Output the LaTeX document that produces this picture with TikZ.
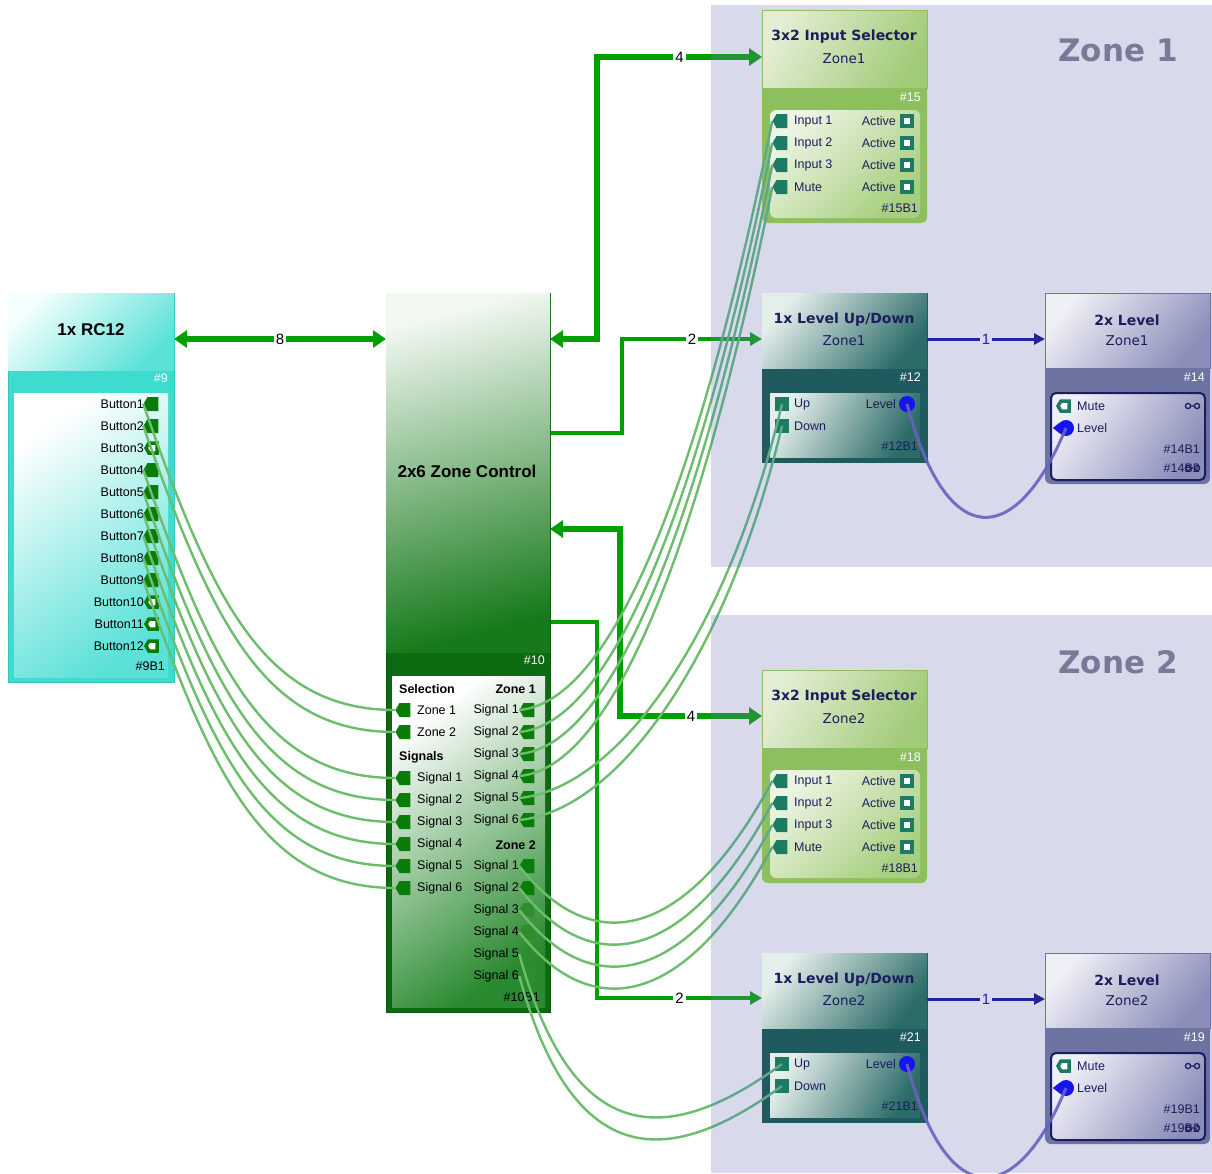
\documentclass[tikz,border=0pt]{standalone}
\usepackage{fontspec}
\setmainfont{Liberation Sans}
\newfontfamily\titlefont{DejaVu Sans}
\usepackage{tikz}
\usetikzlibrary{arrows.meta,positioning,fit,calc,shapes.symbols}
\definecolor{rcturq}  {HTML}{3EDBCF}
\definecolor{rcedge}  {HTML}{30C8BC}
\definecolor{rclight} {HTML}{F3FFFD}
\definecolor{rcmid}   {HTML}{5CE1D8}
\definecolor{zcdark}  {HTML}{0C6A10}
\definecolor{zcedge}  {HTML}{0A5A0C}
\definecolor{zclight} {HTML}{F1F7F1}
\definecolor{zcmid}   {HTML}{167A1A}
\definecolor{zcpanel} {HTML}{2A8A30}
\definecolor{portgrn} {HTML}{0A7C0A}
\definecolor{portlt}  {HTML}{2E8E2E}
\definecolor{wiregrn} {HTML}{6CBD6C}
\definecolor{wireteal}{HTML}{5FA88A}
\definecolor{busgrn}  {HTML}{00A000}
\definecolor{selband} {HTML}{8EBF5F}
\definecolor{sellight}{HTML}{E2EED3}
\definecolor{seldark} {HTML}{A2CB79}
\definecolor{selpa}   {HTML}{EDF4E4}
\definecolor{selpb}   {HTML}{A7CF7F}
\definecolor{navytxt} {HTML}{1D1D5E}
\definecolor{tealport}{HTML}{1E7B63}
\definecolor{lvldark} {HTML}{1F5A5E}
\definecolor{lvllight}{HTML}{E4EEEA}
\definecolor{lvlmid}  {HTML}{2B6B68}
\definecolor{levband} {HTML}{6E74A1}
\definecolor{levlight}{HTML}{EFEFF6}
\definecolor{levdark} {HTML}{8B8EB9}
\definecolor{levedge} {HTML}{1C1C62}
\definecolor{dotblue} {HTML}{1414F0}
\definecolor{linkblue}{HTML}{23239C}
\definecolor{curveblue}{HTML}{6A62C0}
\definecolor{zonetint}{RGB}{120,120,190}
\definecolor{zonebg}  {RGB}{217,217,237}
\definecolor{zonetxt} {HTML}{7A7A98}
\newcommand{\fsmall}{\fontsize{12.5}{14}\selectfont}
\newcommand{\fbold}{\fontsize{12.5}{14}\selectfont\bfseries}
\newcommand{\fhead}{\fontsize{17}{20}\selectfont\bfseries}
\newcommand{\ftitle}{\fontsize{14}{17}\selectfont\titlefont\bfseries}
\newcommand{\fsub}{\fontsize{13.5}{16}\selectfont\titlefont}
\newcommand{\fzone}{\fontsize{31}{36}\selectfont\titlefont\bfseries}
\newcommand{\fnum}{\fontsize{15}{17}\selectfont}
\pgfdeclarelayer{wires}
\pgfdeclarelayer{zones}
\pgfdeclarelayer{over}
\pgfsetlayers{wires,zones,main,over}
\tikzset{
  area/.style     ={inner sep=0pt, outer sep=0pt},
  port/.style     ={signal, signal to=west, signal pointer angle=120,
                    fill=portgrn, minimum width=15pt, minimum height=14pt,
                    inner sep=0pt},
  hport/.style    ={port, fill=white, draw=portgrn, line width=3.5pt,
                    minimum width=11pt, minimum height=10pt},
  lport/.style    ={port, fill=portlt},
  tport/.style    ={port, fill=tealport},
  thport/.style   ={hport, draw=tealport},
  tsq/.style      ={rectangle, fill=tealport, minimum size=14pt, inner sep=0pt},
  thsq/.style     ={rectangle, fill=white, draw=tealport, line width=4pt,
                    minimum size=10pt, inner sep=0pt},
  dot/.style      ={circle, fill=dotblue, minimum size=16pt, inner sep=0pt},
  lbl/.style      ={font=\fsmall, inner sep=0pt, text=black},
  nlbl/.style     ={lbl, text=navytxt},
  wlbl/.style     ={lbl, text=white},
  wire/.style     ={draw=wiregrn, line width=2.4pt},
  busboth/.style  ={{Triangle[length=13pt,width=17pt]}-{Triangle[length=13pt,width=17pt]},
                    draw=busgrn, line width=6.5pt},
  busone/.style   ={-{Triangle[length=12pt,width=13pt]}, draw=busgrn, line width=4pt},
  linkarr/.style  ={-{Triangle[length=11pt,width=11pt]}, draw=linkblue, line width=3pt},
  curve/.style    ={draw=curveblue, line width=3pt, opacity=.9},
  num/.style      ={fill=white, font=\fnum, inner sep=2pt},
  numb/.style     ={fill=zonebg, font=\fnum, text=linkblue, inner sep=2pt},
}
% all signal wires, drawn twice (outside / inside the zones)
\newcommand{\wirepaths}{%
  \foreach \b/\p in {1/zs1,2/zs2,4/zg1,5/zg2,6/zg3,7/zg4,8/zg5,9/zg6}
    \draw[wire] (b\b.west) .. controls +(70,200) and +(-130,0) .. (\p.west);
  \foreach \i in {1,...,4}
    \draw[wire] (za\i.west) .. controls +(115,-10) and +(-50,250) .. (s1in\i.west);
  \draw[wire] (za5.west) .. controls +(100,-10) and +(-55,230) .. (ludup1.center);
  \draw[wire] (za6.west) .. controls +(100,-10) and +(-55,230) .. (luddn1.center);
  \foreach \i in {1,...,4}
    \draw[wire] (zb\i.west) .. controls +(78,100) and +(-80,150) .. (s2in\i.west);
  \draw[wire] (zb5.west) .. controls +(55,200) and +(-110,80) .. (ludup2.center);
  \draw[wire] (zb6.west) .. controls +(55,200) and +(-110,80) .. (luddn2.center);
}

\begin{document}
\begin{tikzpicture}[x=1pt,y=-1pt]
  \useasboundingbox (0,0) rectangle (1212,1173);

  % zones
  \begin{pgfonlayer}{zones}
    \fill[zonetint, opacity=.28] (711,5) rectangle (1212,567);
    \fill[zonetint, opacity=.28] (711,615) rectangle (1212,1173);
  \end{pgfonlayer}
  \node[font=\fzone, text=zonetxt] (zone1) at (1118,50) {Zone 1};
  \node[font=\fzone, text=zonetxt] (zone2) at (1118,662) {Zone 2};

  % 1x RC12
  \node[area, fit={(8,293)(174,682)}, fill=rcturq, draw=rcedge] (rc) {};
  \node[area, fit={(8,293)(174,370)}, top color=rclight, bottom color=rcmid,
        shading angle=45] (rchead) {};
  \node[area, fit={(14,393)(168,677)}, top color=white, bottom color=rcmid,
        shading angle=35] (rcpanel) {};
  \node[font=\fhead] (rctitle) at (91,330) {1x RC12};
  \node[wlbl, anchor=east] (rcid) at (168,378) {\#9};
  \node[lbl, anchor=east] (rcpid) at (165,666) {\#9B1};
  \foreach \i/\st in {1/port,2/port,3/hport,4/port,5/port,6/port,7/port,
                      8/port,9/port,10/hport,11/hport,12/hport}{
    \node[\st] (b\i) at (153,{382+22*\i}) {};
    \node[lbl, anchor=east] (bt\i) at (144,{382+22*\i}) {Button\i};
  }

  % 2x6 Zone Control
  \node[area, fit={(386,293)(550,1012)}, fill=zcdark, draw=zcedge] (zc) {};
  \node[area, fit={(386,293)(550,652)}, top color=zclight, bottom color=zcmid,
        shading angle=15] (zchead) {};
  \node[area, fit={(392,676)(545,1007)}, top color=white, bottom color=zcpanel,
        shading angle=35] (zcpanel) {};
  \node[font=\fhead] (zctitle) at (467,471) {2x6 Zone Control};
  \node[wlbl, anchor=east] (zcid) at (545,660) {\#10};
  \node[lbl, anchor=east] (zcpid) at (540,997) {\#10B1};
  \node[lbl, font=\fbold, anchor=west] (zcsel) at (399,689) {Selection};
  \node[lbl, font=\fbold, anchor=east] (zcza) at (536,689) {Zone 1};
  \node[lbl, font=\fbold, anchor=west] (zcsig) at (399,757) {Signals};
  \node[lbl, font=\fbold, anchor=east] (zczb) at (536,845) {Zone 2};
  \foreach \i in {1,2}{
    \node[port] (zs\i) at (405,{688+22*\i}) {};
    \node[lbl, anchor=west] (zst\i) at (417,{688+22*\i}) {Zone \i};
  }
  \foreach \i in {1,...,6}{
    \node[port] (zg\i) at (405,{756+22*\i}) {};
    \node[lbl, anchor=west] (zgt\i) at (417,{756+22*\i}) {Signal \i};
    \node[port] (za\i) at (529,{688+22*\i}) {};
    \node[lbl, anchor=east] (zat\i) at (519,{688+22*\i}) {Signal \i};
  }
  \foreach \i/\st in {1/port,2/port,3/lport,4/lport,5/lport,6/lport}{
    \node[\st] (zb\i) at (529,{844+22*\i}) {};
    \node[lbl, anchor=east] (zbt\i) at (519,{844+22*\i}) {Signal \i};
  }

  % 3x2 Input Selector
  \foreach \z/\dy/\id in {1/0/15,2/660/18}{
    \node[area, fit={(762,{10+\dy})(927,{223+\dy})}, fill=selband,
          rounded corners=6pt] (sel\z) {};
    \node[area, fit={(762,{10+\dy})(927,{88+\dy})}, top color=sellight,
          bottom color=seldark, shading angle=60, draw=selband] (selhead\z) {};
    \node[area, fit={(770,{110+\dy})(920,{218+\dy})}, rounded corners=6pt,
          top color=selpa, bottom color=selpb, shading angle=45] (selpanel\z) {};
    \node[font=\ftitle, text=navytxt] (seltitle\z) at (844,{37+\dy}) {3x2 Input Selector};
    \node[font=\fsub, text=navytxt] (selsub\z) at (844,{59+\dy}) {Zone\z};
    \node[wlbl, anchor=east] (selid\z) at (921,{97+\dy}) {\#\id};
    \node[nlbl, anchor=east] (selpid\z) at (918,{208+\dy}) {\#\id B1};
    \foreach \k/\t in {1/Input 1,2/Input 2,3/Input 3,4/Mute}{
      \node[tport] (s\z in\k) at (782,{99+22*\k+\dy}) {};
      \node[nlbl, anchor=west] (s\z t\k) at (794,{99+22*\k+\dy}) {\t};
      \node[nlbl, anchor=east] (s\z a\k) at (896,{99+22*\k+\dy}) {Active};
      \node[thsq] (s\z o\k) at (907,{99+22*\k+\dy}) {};
    }
  }

  % 1x Level Up/Down
  \foreach \z/\dy/\id in {1/0/12,2/660/21}{
    \node[area, fit={(762,{293+\dy})(927,{462+\dy})}, fill=lvldark,
          draw=lvldark] (lud\z) {};
    \node[area, fit={(762,{293+\dy})(927,{368+\dy})}, top color=lvllight,
          bottom color=lvlmid, shading angle=50] (ludhead\z) {};
    \node[area, fit={(770,{393+\dy})(920,{457+\dy})}, top color=lvllight,
          bottom color=lvlmid, shading angle=60] (ludpanel\z) {};
    \node[font=\ftitle, text=navytxt] (ludtitle\z) at (844,{320+\dy}) {1x Level Up/Down};
    \node[font=\fsub, text=navytxt] (ludsub\z) at (844,{341+\dy}) {Zone\z};
    \node[wlbl, anchor=east] (ludid\z) at (921,{377+\dy}) {\#\id};
    \node[nlbl, anchor=east] (ludpid\z) at (918,{446+\dy}) {\#\id B1};
    \node[tsq] (ludup\z) at (782,{404+\dy}) {};
    \node[tsq] (luddn\z) at (782,{426+\dy}) {};
    \node[nlbl, anchor=west] (ludupt\z) at (794,{404+\dy}) {Up};
    \node[nlbl, anchor=west] (luddnt\z) at (794,{426+\dy}) {Down};
    \node[nlbl, anchor=east] (ludlvt\z) at (896,{404+\dy}) {Level};
    \node[dot] (ludlv\z) at (907,{404+\dy}) {};
  }

  % 2x Level
  \foreach \z/\dy/\id in {1/0/14,2/660/19}{
    \node[area, fit={(1045,{293+\dy})(1210,{484+\dy})}, fill=levband,
          rounded corners=6pt] (lev\z) {};
    \node[area, fit={(1045,{293+\dy})(1210,{368+\dy})}, top color=levlight,
          bottom color=levdark, shading angle=50, draw=levband] (levhead\z) {};
    \node[area, fit={(1051,{393+\dy})(1205,{480+\dy})}, rounded corners=5pt,
          top color=levlight, bottom color=levdark, shading angle=55,
          draw=levedge, line width=2pt] (levpanel\z) {};
    \node[font=\ftitle, text=navytxt] (levtitle\z) at (1127,{320+\dy}) {2x Level};
    \node[font=\fsub, text=navytxt] (levsub\z) at (1127,{341+\dy}) {Zone\z};
    \node[wlbl, anchor=east] (levid\z) at (1205,{377+\dy}) {\#\id};
    \node[thport] (levmute\z) at (1065,{406+\dy}) {};
    \node[nlbl, anchor=west] (levmutet\z) at (1077,{406+\dy}) {Mute};
    \node[dot] (levlv\z) at (1066,{428+\dy}) {};
    \fill[dotblue] (levlv\z.north west) -- ([xshift=-5pt]levlv\z.west)
      -- (levlv\z.south west) -- cycle;
    \node[nlbl, anchor=west] (levlvt\z) at (1077,{428+\dy}) {Level};
    \node[nlbl, anchor=east] (levpa\z) at (1200,{449+\dy}) {\#\id B1};
    \node[nlbl, anchor=east] (levpb\z) at (1200,{468+\dy}) {\#\id B2};
    \foreach \ly in {406,468}{
      \draw[levedge, line width=1.3pt] (1188,{\ly+\dy}) circle (2.6)
        (1197,{\ly+\dy}) circle (2.6) (1190.6,{\ly+\dy}) -- (1194.4,{\ly+\dy});
    }
  }

  % buses
  \begin{pgfonlayer}{wires}
    \fill[white] (0,0) rectangle (1212,1173);
    \draw[busboth] (rc.east |- 0,339) -- node[num] (n8) {8} (zc.west |- 0,339);
    \draw[busboth] (zc.east |- 0,339) -- ++(47,0)
      |- node[num, pos=.75] (n4a) {4} (selhead1.west |- 0,57);
    \draw[busone] (zc.east |- 0,433) -- ++(72,0)
      |- node[num, pos=.75] (n2a) {2} (ludhead1.west |- 0,339);
    \draw[busboth] (zc.east |- 0,529) -- ++(70,0)
      |- node[num, pos=.75] (n4b) {4} (selhead2.west |- 0,716);
    \draw[busone] (zc.east |- 0,622) -- ++(47,0)
      |- node[num, pos=.75] (n2b) {2} (ludhead2.west |- 0,998);
  \end{pgfonlayer}

  % signal wires on top
  \begin{pgfonlayer}{over}
    \begin{scope}[even odd rule]
      \clip (0,0) rectangle (1212,1173)
        (711,5) rectangle (1212,567) (711,615) rectangle (1212,1173);
      \wirepaths
    \end{scope}
    \begin{scope}[wire/.style={draw=wireteal, line width=2.4pt}]
      \clip (711,5) rectangle (1212,567) (711,615) rectangle (1212,1173);
      \wirepaths
    \end{scope}
  \end{pgfonlayer}

  % level links
  \foreach \z/\dy in {1/0,2/660}{
    \draw[linkarr] (ludhead\z.east |- 0,{339+\dy})
      -- node[numb] (n1\z) {1} (levhead\z.west |- 0,{339+\dy});
    \draw[curve] (ludlv\z.center) .. controls +(40,150) and +(-50,120) .. (levlv\z.center);
  }
\end{tikzpicture}
\end{document}
